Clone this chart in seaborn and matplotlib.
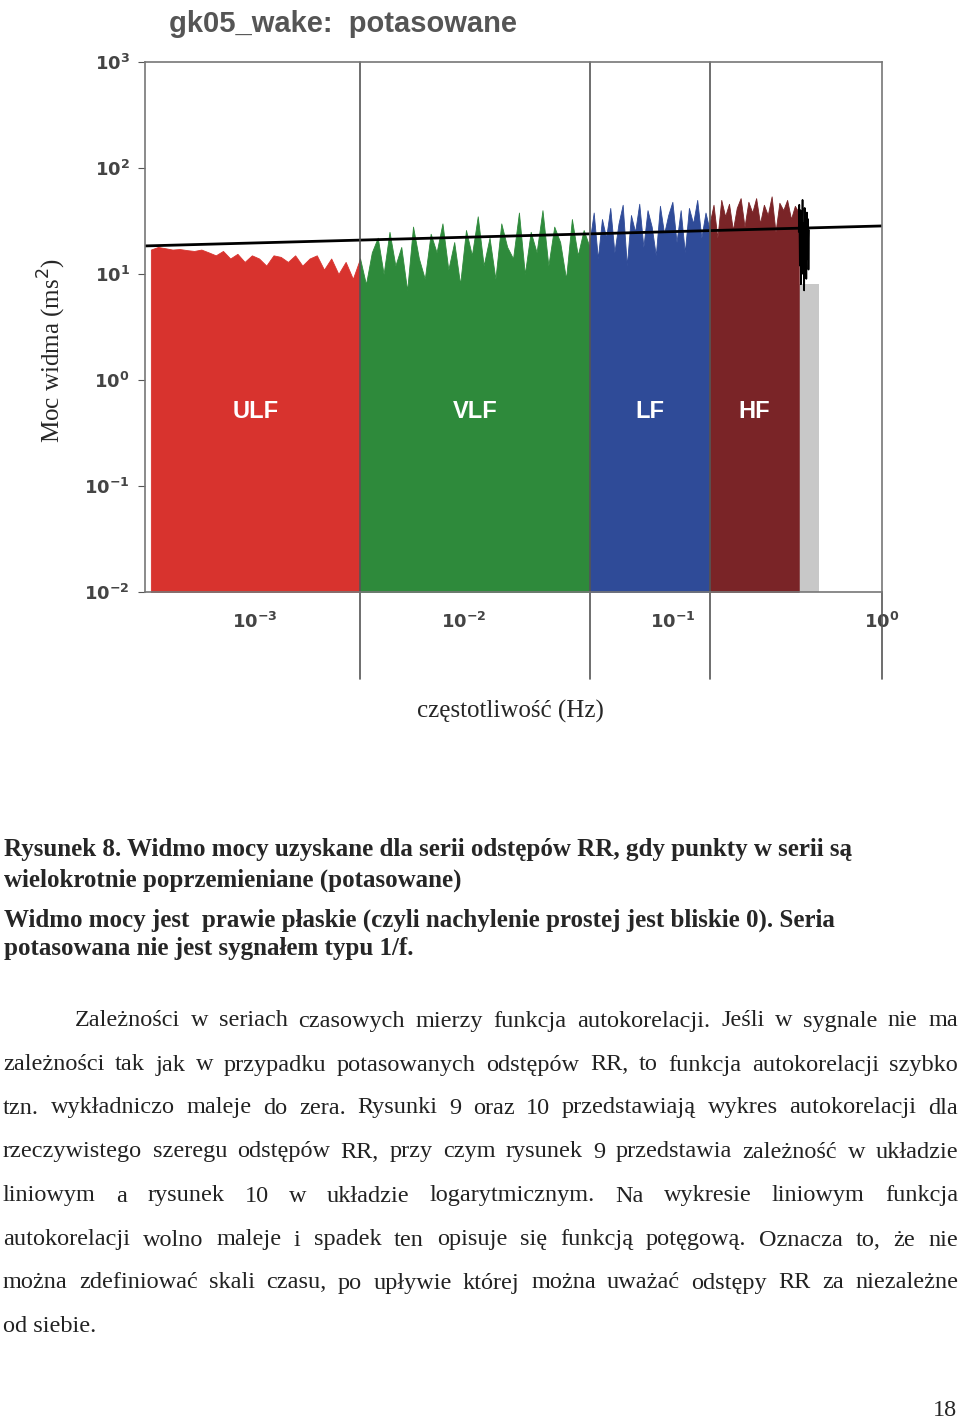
import numpy as np
import matplotlib.pyplot as plt
import seaborn as sns

sns.set_style("white")

# band edges (Hz) and spectrum values (ms^2)
ulf_edges = (3.2e-4, 0.0032)
vlf_edges = (0.0032, 0.040)
lf_edges = (0.040, 0.15)
hf_edges = (0.15, 0.40)
tail_edges = (0.40, 0.50)

ulf_vals = [17, 18, 17.5, 17, 17.2, 16.8, 16.5, 17, 16, 15, 16.5, 14, 15.5, 13, 15, 14,
            12, 15, 14.5, 13, 15, 12, 14, 15, 11, 14, 10, 13, 9, 14]
vlf_vals = [14, 8, 16, 22, 10, 25, 12, 18, 7, 28, 14, 9, 24, 16, 30, 11, 20, 8, 26, 15,
            35, 12, 22, 9, 30, 18, 14, 38, 10, 25, 16, 40, 12, 28, 20, 9, 33, 15, 26, 18]
lf_vals = [20, 38, 14, 33, 22, 42, 16, 30, 45, 12, 36, 25, 46, 18, 40, 28, 15, 44, 24, 36,
           48, 20, 40, 16, 42, 30, 50, 22, 38, 26]
hf_vals = [30, 45, 22, 50, 35, 46, 26, 42, 52, 28, 48, 38, 52, 30, 45, 36, 54, 25, 47, 40,
           50, 33, 44, 38]
tail_vals = [25, 45, 12, 40, 8, 35, 15, 50, 10, 30, 7, 42, 18, 28, 9, 38, 14, 33, 11, 26]
tail_grey = 8.0

fit_x = [3.0e-4, 1.0]
fit_y = [18.4, 28.4]

tick_vals = [1e-3, 1e-2, 1e-1, 1e0]
tick_labels = ["$\\mathbf{10^{-3}}$", "$\\mathbf{10^{-2}}$", "$\\mathbf{10^{-1}}$", "$\\mathbf{10^{0}}$"]
ytick_vals = [1e-2, 1e-1, 1e0, 1e1, 1e2, 1e3]
ytick_labels = ["$\\mathbf{10^{-2}}$", "$\\mathbf{10^{-1}}$", "$\\mathbf{10^{0}}$",
                "$\\mathbf{10^{1}}$", "$\\mathbf{10^{2}}$", "$\\mathbf{10^{3}}$"]

bands = [("ULF", ulf_edges, ulf_vals, "#d8332e"),
         ("VLF", vlf_edges, vlf_vals, "#2e8a3b"),
         ("LF", lf_edges, lf_vals, "#2f4b98"),
         ("HF", hf_edges, hf_vals, "#7a2427")]

W, H = 960, 1422
fig = plt.figure(figsize=(W / 100, H / 100), dpi=100)
ax = fig.add_axes([145 / W, 1 - 592 / H, (882 - 145) / W, (592 - 62) / H])
ax.set_xscale("log")
ax.set_yscale("log")
ax.set_xlim(3.0e-4, 1.0)
ax.set_ylim(1e-2, 1e3)

# grey tail under the black part
ax.fill_between(tail_edges, 1e-2, tail_grey, color="#c8c8c8", lw=0)
for name, (lo, hi), vals, col in bands:
    fx = np.geomspace(lo, hi, len(vals))
    ax.fill_between(fx, 1e-2, vals, color=col, lw=0.6, edgecolor=col)
    ax.text(np.sqrt(lo * hi), 0.5, name, color="white", fontsize=17, fontweight="bold",
            ha="center", va="center", family="Liberation Sans")
tx = np.geomspace(tail_edges[0], tail_edges[0] * 1.12, len(tail_vals))
ax.plot(tx, tail_vals, color="black", lw=1.2)
ax.plot(fit_x, fit_y, color="black", lw=2)

for b in [ulf_edges[1], vlf_edges[1], lf_edges[1]]:
    ax.axvline(b, color="#555555", lw=1.2, ymin=0, ymax=1, clip_on=False)
    ax.plot([b, b], [1e-2, 1.5e-3], color="#555555", lw=1.2, clip_on=False)
ax.plot([1, 1], [1e-2, 1.5e-3], color="#555555", lw=1.2, clip_on=False)

ax.set_xticks(tick_vals)
ax.set_xticklabels(tick_labels, fontsize=13, color="#444444")
ax.set_yticks(ytick_vals)
ax.set_yticklabels(ytick_labels, fontsize=13, color="#444444")
ax.minorticks_off()
ax.tick_params(axis="x", length=0, pad=14)
ax.tick_params(axis="y", length=5, left=True, color="#555555", pad=6)
for s in ax.spines.values():
    s.set_color("#777777")
    s.set_linewidth(1.2)

fig.text(343 / W, 1 - 24 / H, "gk05_wake:  potasowane", fontsize=21, color="#555555",
         ha="center", va="center", family="Liberation Sans", fontweight="bold")
fig.text(52 / W, 1 - 350 / H, "Moc widma (ms$^2$)", rotation=90, fontsize=18,
         ha="center", va="center", family="Liberation Serif")
fig.text(510 / W, 1 - 711 / H, "częstotliwość (Hz)", fontsize=18,
         ha="center", va="center", family="Liberation Serif")

caption = [
    (850, "Rysunek 8. Widmo mocy uzyskane dla serii odstępów RR, gdy punkty w serii są"),
    (880, "wielokrotnie poprzemieniane (potasowane)"),
    (920, "Widmo mocy jest  prawie płaskie (czyli nachylenie prostej jest bliskie 0). Seria"),
    (948, "potasowana nie jest sygnałem typu 1/f."),
]
for y, s in caption:
    fig.text(4 / W, 1 - y / H, s, fontsize=18, fontweight="bold", va="center",
             family="Liberation Serif")

para = [
    (1021, 75, "Zależności w seriach czasowych mierzy funkcja autokorelacji. Jeśli w sygnale nie ma", True),
    (1065, 3, "zależności tak jak w przypadku potasowanych odstępów RR, to funkcja autokorelacji szybko", True),
    (1108, 3, "tzn. wykładniczo maleje do zera. Rysunki 9 oraz 10 przedstawiają wykres autokorelacji dla", True),
    (1152, 3, "rzeczywistego szeregu odstępów RR, przy czym rysunek 9 przedstawia zależność w układzie", True),
    (1196, 3, "liniowym a rysunek 10 w układzie logarytmicznym. Na wykresie liniowym funkcja", True),
    (1240, 3, "autokorelacji wolno maleje i spadek ten opisuje się funkcją potęgową. Oznacza to, że nie", True),
    (1283, 3, "można zdefiniować skali czasu, po upływie której można uważać odstępy RR za niezależne", True),
    (1327, 3, "od siebie.", False),
]
fs = 17.5
renderer = fig.canvas.get_renderer()
right = 958
for y, x0, s, just in para:
    if not just:
        fig.text(x0 / W, 1 - y / H, s, fontsize=fs, va="center", family="Liberation Serif",
                 color="#222222")
        continue
    words = s.split()
    txts = [fig.text(0, 1 - y / H, w, fontsize=fs, va="center", family="Liberation Serif",
                     color="#222222") for w in words]
    widths = [t.get_window_extent(renderer).width for t in txts]
    gap = (right - x0 - sum(widths)) / (len(words) - 1)
    x = x0
    for t, w in zip(txts, widths):
        t.set_x(x / W)
        x += w + gap

fig.text(945 / W, 1 - 1411 / H, "18", fontsize=fs, ha="center", va="center",
         family="Liberation Serif")

fig.savefig("out.png", dpi=100)
